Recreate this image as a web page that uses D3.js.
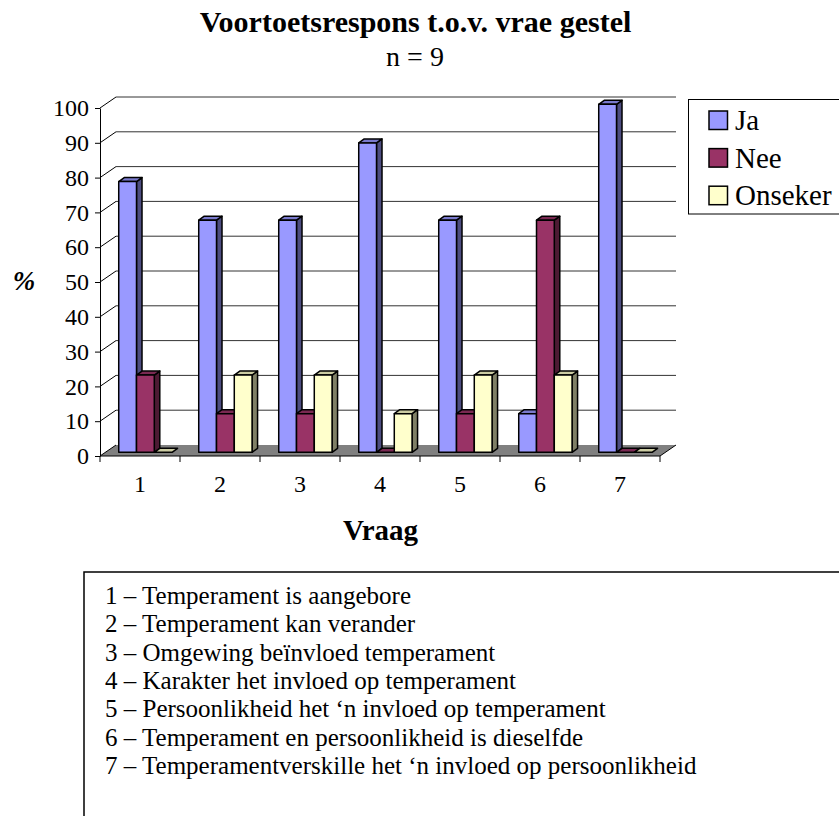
<!DOCTYPE html>
<html>
<head>
<meta charset="utf-8">
<script src="https://cdn.jsdelivr.net/npm/d3@7"></script>
<style>
  html, body { margin: 0; padding: 0; background: #fff; }
  svg { display: block; }
  text { font-family: "Liberation Serif", "Times New Roman", serif; fill: #000; }
</style>
</head>
<body>
<script>
// ---- data ----
const categories = ["1", "2", "3", "4", "5", "6", "7"];
const seriesNames = ["Ja", "Nee", "Onseker"];
const jaValues = [77.8, 66.7, 66.7, 88.9, 66.7, 11.1, 100];
const neeValues = [22.2, 11.1, 11.1, 0, 11.1, 66.7, 0];
const onsekerValues = [0, 22.2, 22.2, 11.1, 22.2, 22.2, 0];
const yTickValues = [0, 10, 20, 30, 40, 50, 60, 70, 80, 90, 100];
const titleText = "Voortoetsrespons t.o.v. vrae gestel";
const subtitleText = "n = 9";
const xAxisTitle = "Vraag";
const yAxisTitle = "%";
const statements = [
  "1 \u2013 Temperament is aangebore",
  "2 \u2013 Temperament kan verander",
  "3 \u2013 Omgewing be\u00efnvloed temperament",
  "4 \u2013 Karakter het invloed op temperament",
  "5 \u2013 Persoonlikheid het \u2018n invloed op temperament",
  "6 \u2013 Temperament en persoonlikheid is dieselfde",
  "7 \u2013 Temperamentverskille het \u2018n invloed op persoonlikheid"
];

const seriesValues = { "Ja": jaValues, "Nee": neeValues, "Onseker": onsekerValues };
const colors = {
  "Ja":      { front: "#9999FF", top: "#7A7ACC", side: "#4D4D80" },
  "Nee":     { front: "#993366", top: "#7A2952", side: "#4D1A33" },
  "Onseker": { front: "#FFFFCC", top: "#CCCCA3", side: "#808066" }
};

const W = 839, H = 816;
const svg = d3.select("body").append("svg").attr("width", W).attr("height", H);

// ---- scales ----
const plotLeft = 100, plotRight = 660, plotBottom = 456, plotTop = 108;
const y = d3.scaleLinear().domain([0, 100]).range([plotBottom, plotTop]);
const x0 = d3.scaleBand().domain(categories).range([plotLeft, plotRight]).paddingInner(0).paddingOuter(0);
const x1 = d3.scaleBand().domain(seriesNames).range([0, x0.bandwidth()]).paddingInner(0).paddingOuter(0.75);

const depth = { dx: 16, dy: -11 };     // full floor depth
const barOff = { dx: 5.4, dy: -3.7 };  // bar front plane offset
const barDepth = { dx: 5.5, dy: -4 };  // bar own depth

// ---- floor ----
const floor = [
  [plotLeft, y(0)], [plotRight, y(0)],
  [plotRight + depth.dx, y(0) + depth.dy], [plotLeft + depth.dx, y(0) + depth.dy]
];
svg.append("polygon").attr("points", floor.map(p => p.join(",")).join(" "))
  .attr("fill", "#808080").attr("stroke", "none");

// ---- gridlines (back wall + left wall diagonals) ----
const grid = svg.append("g").attr("stroke", "#000").attr("stroke-width", 1).attr("fill", "none");
yTickValues.forEach(v => {
  const yy = y(v);
  grid.append("line")
    .attr("x1", plotLeft).attr("y1", yy)
    .attr("x2", plotLeft + depth.dx).attr("y2", yy + depth.dy);
  if (v > 0) {
    grid.append("line")
      .attr("x1", plotLeft + depth.dx).attr("y1", yy + depth.dy)
      .attr("x2", plotRight + depth.dx).attr("y2", yy + depth.dy)
      .attr("stroke", "#333");
  }
});
// floor right diagonal
grid.append("line")
  .attr("x1", plotRight).attr("y1", y(0))
  .attr("x2", plotRight + depth.dx).attr("y2", y(0) + depth.dy);

// ---- bars ----
const bars = svg.append("g")
  .attr("stroke", "#000").attr("stroke-width", 1.5).attr("stroke-linejoin", "round");
categories.forEach((c, ci) => {
  seriesNames.forEach(s => {
    const v = seriesValues[s][ci];
    const col = colors[s];
    const xl = x0(c) + x1(s) + barOff.dx;
    const xr = xl + x1.bandwidth();
    const yb = y(0) + barOff.dy;
    const yt = y(v) + barOff.dy;
    const g = bars.append("g");
    if (v > 0) {
      g.append("polygon")
        .attr("points", [[xr, yt], [xr + barDepth.dx, yt + barDepth.dy], [xr + barDepth.dx, yb + barDepth.dy], [xr, yb]].map(p => p.join(",")).join(" "))
        .attr("fill", col.side);
    }
    g.append("polygon")
      .attr("points", [[xl, yt], [xl + barDepth.dx, yt + barDepth.dy], [xr + barDepth.dx, yt + barDepth.dy], [xr, yt]].map(p => p.join(",")).join(" "))
      .attr("fill", col.top);
    if (v > 0) {
      g.append("rect")
        .attr("x", xl).attr("y", yt).attr("width", x1.bandwidth()).attr("height", yb - yt)
        .attr("fill", col.front);
    }
  });
});

// ---- y axis ----
const yAxis = d3.axisLeft(y).tickValues(yTickValues).tickSize(5).tickSizeOuter(0).tickPadding(6);
const yG = svg.append("g").attr("transform", `translate(${plotLeft},0)`).call(yAxis);
yG.select(".domain").attr("stroke", "#000").attr("stroke-width", 1);
yG.selectAll(".tick line").attr("stroke", "#000");
yG.selectAll(".tick text")
  .attr("font-family", '"Liberation Serif", "Times New Roman", serif')
  .attr("font-size", 24).attr("fill", "#000");

// ---- x axis ----
const xAxis = d3.axisBottom(x0).tickSize(0).tickPadding(19);
const xG = svg.append("g").attr("transform", `translate(0,${plotBottom})`).call(xAxis);
xG.select(".domain").remove();
xG.selectAll(".tick text")
  .attr("font-family", '"Liberation Serif", "Times New Roman", serif')
  .attr("font-size", 24).attr("fill", "#000");
svg.append("line")
  .attr("x1", plotLeft).attr("x2", plotRight).attr("y1", plotBottom).attr("y2", plotBottom)
  .attr("stroke", "#000").attr("stroke-width", 1);
const boundaries = categories.map(c => x0(c)).concat([x0.range()[1]]);
svg.append("g").selectAll("line").data(boundaries).join("line")
  .attr("x1", d => d).attr("x2", d => d)
  .attr("y1", plotBottom).attr("y2", plotBottom + 6)
  .attr("stroke", "#000").attr("stroke-width", 1);

// ---- titles ----
svg.append("text").attr("x", 415.5).attr("y", 32).attr("text-anchor", "middle")
  .attr("font-size", 30).attr("font-weight", "bold").text(titleText);
svg.append("text").attr("x", 415).attr("y", 66).attr("text-anchor", "middle")
  .attr("font-size", 28).text(subtitleText);
svg.append("text").attr("x", 380.5).attr("y", 540).attr("text-anchor", "middle")
  .attr("font-size", 29).attr("font-weight", "bold").text(xAxisTitle);
svg.append("text").attr("x", 24).attr("y", 290).attr("text-anchor", "middle")
  .attr("font-size", 27).attr("font-weight", "bold").attr("font-style", "italic").text(yAxisTitle);

// ---- legend ----
const lg = svg.append("g");
lg.append("rect").attr("x", 688.5).attr("y", 99.5).attr("width", 220).attr("height", 114.5)
  .attr("fill", "#fff").attr("stroke", "#000").attr("stroke-width", 1);
seriesNames.forEach((s, i) => {
  const yy = 111 + i * 37.6;
  lg.append("rect").attr("x", 709).attr("y", yy).attr("width", 18.5).attr("height", 18.5)
    .attr("fill", colors[s].front).attr("stroke", "#000").attr("stroke-width", 1.5);
  lg.append("text").attr("x", 735).attr("y", yy + 19).attr("font-size", 29).text(s);
});

// ---- statements box ----
svg.append("rect").attr("x", 84).attr("y", 572).attr("width", 820).attr("height", 300)
  .attr("fill", "none").attr("stroke", "#000").attr("stroke-width", 1.5);
const st = svg.append("g");
statements.forEach((t, i) => {
  st.append("text").attr("x", 105).attr("y", 604 + i * 28.3).attr("font-size", 25).text(t);
});
</script>
</body>
</html>
